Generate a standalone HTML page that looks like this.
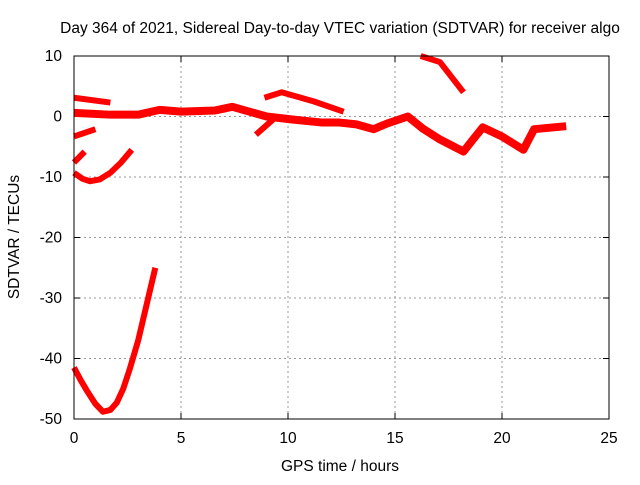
<!DOCTYPE html>
<html><head><meta charset="utf-8"><style>
body{margin:0;background:#fff;font-family:"Liberation Sans",sans-serif}
svg text{font-family:"Liberation Sans",sans-serif;font-size:15.5px;fill:#000}
</style></head><body>
<svg id="c" width="640" height="480">
<rect width="640" height="480" fill="#fff"/>
<text x="340" y="33" text-anchor="middle">Day 364 of 2021, Sidereal Day-to-day VTEC variation (SDTVAR) for receiver algo</text>
<text x="340" y="471" text-anchor="middle">GPS time / hours</text>
<text transform="translate(19,237) rotate(-90)" text-anchor="middle">SDTVAR / TECUs</text>
<g id="grid"></g><g id="series"></g>
<rect x="74" y="56" width="535" height="363" fill="none" stroke="#000" stroke-width="1"/>
</svg>
<script>
const xTicks=[0,5,10,15,20,25];
const yTicks=[10,0,-10,-20,-30,-40,-50];
const mainH=[0,1.7,3,4,5,6.6,7.4,9,10.2,11.6,12.4,13.2,14,14.6,15.6,16.3,17.1,18.2,18.6,19.1,20,21,21.5,23];
const mainV=[0.6,0.3,0.3,1.1,0.8,1,1.6,0,-0.5,-1,-1,-1.3,-2.1,-1.2,0,-2,-3.8,-5.8,-4,-1.8,-3.3,-5.5,-2.1,-1.6];
const topRightH=[16.2,17.1,18.2];
const topRightV=[10,9,4];
const topLeftH=[0,1.7];
const topLeftV=[3.1,2.3];
const s3H=[0,1];
const s3V=[-3.3,-2.1];
const s7H=[0,0.5];
const s7V=[-7.6,-5.8];
const arcH=[0,0.4,0.75,1.2,1.7,2.2,2.7];
const arcV=[-9.3,-10.3,-10.7,-10.4,-9.3,-7.6,-5.5];
const midUpH=[8.9,9.7,11.2,12.6];
const midUpV=[3.1,4,2.5,0.8];
const branchH=[8.5,9.3];
const branchV=[-3,-0.5];
const lowH=[0,0.3,0.6,1,1.35,1.7,2,2.3,2.6,3,3.4,3.8];
const lowV=[-41.5,-43.5,-45.3,-47.5,-48.8,-48.5,-47.3,-45,-41.8,-37,-31,-25];
const X=h=>74+h*535/25;
const Y=v=>56+(10-v)*363/60;
const NS="http://www.w3.org/2000/svg";
const g=document.getElementById('grid');
function mk(t,a,p){const e=document.createElementNS(NS,t);for(const k in a)e.setAttribute(k,a[k]);p.appendChild(e);return e;}
xTicks.forEach(t=>{
 if(t>0&&t<25){const l=mk('line',{x1:X(t),x2:X(t),y1:56,y2:419,stroke:'#999','stroke-dasharray':'2,3'},g);
 
 }
 mk('line',{x1:X(t),x2:X(t),y1:419,y2:413,stroke:'#000'},g);
 mk('line',{x1:X(t),x2:X(t),y1:56,y2:62,stroke:'#000'},g);
 const tx=mk('text',{x:X(t),y:443,'text-anchor':'middle'},g);tx.textContent=t;
 
 
});
yTicks.forEach(t=>{
 if(t<10&&t>-50){const l=mk('line',{x1:74,x2:609,y1:Y(t),y2:Y(t),stroke:'#999','stroke-dasharray':'2,3'},g);
 
 }
 mk('line',{x1:74,x2:80,y1:Y(t),y2:Y(t),stroke:'#000'},g);
 mk('line',{x1:603,x2:609,y1:Y(t),y2:Y(t),stroke:'#000'},g);
 const tx=mk('text',{x:62,y:Y(t)+5,'text-anchor':'end'},g);tx.textContent=t;
 
 
});
const sg=document.getElementById('series');
[[mainH,mainV],[topRightH,topRightV],[topLeftH,topLeftV],[s3H,s3V],[s7H,s7V],[arcH,arcV],[midUpH,midUpV],[branchH,branchV],[lowH,lowV]].forEach(([hs,vs],i)=>{
 const p=mk('polyline',{points:hs.map((h,j)=>X(h)+','+Y(vs[j])).join(' '),fill:'none',stroke:'#f00','stroke-width':i==0?8:6,'stroke-linejoin':'round','stroke-linecap':'butt'},sg);
 
 
});
</script>
</body></html>
